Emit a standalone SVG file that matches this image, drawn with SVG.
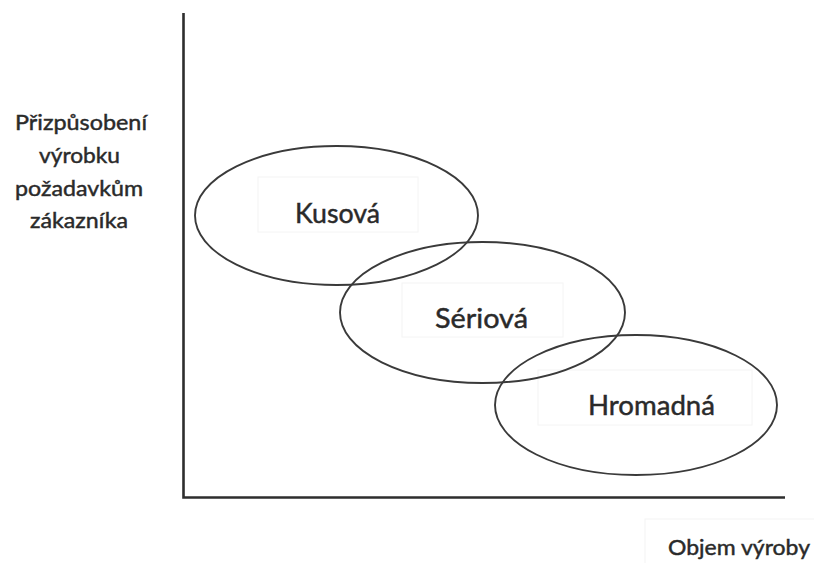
<svg xmlns="http://www.w3.org/2000/svg" width="814" height="563" viewBox="0 0 814 563">
  <style>
    .axis { stroke: #2e2e2e; stroke-width: 2.6; fill: none; }
    .oval { stroke: #3a3a3a; stroke-width: 1.9; fill: none; }
    .box { fill: #ffffff; stroke: #f4f4f4; stroke-width: 1; }
    .lbl { font-family: Lato, "Open Sans", "Liberation Sans", sans-serif; fill: #2a2a2a; stroke: #2a2a2a; stroke-width: 0.45; }
    .big { font-size: 27px; }
    .small { font-size: 22px; }
  </style>

  <rect width="814" height="563" fill="#ffffff"/>

  <!-- label backgrounds -->
  <g id="label-boxes">
    <rect class="box" x="258" y="177" width="160" height="55"/>
    <rect class="box" x="402" y="283" width="161" height="54"/>
    <rect class="box" x="538" y="370" width="214" height="55"/>
    <rect class="box" x="645" y="519" width="175" height="50"/>
  </g>

  <!-- axes -->
  <g id="connectors">
    <polyline class="axis" points="183.5,13 183.5,497.5 785,497.5"/>
  </g>

  <g id="kusova">
    <ellipse class="oval" cx="336.5" cy="215.5" rx="141.5" ry="69.5"/>
    <text class="lbl big" x="295" y="223" textLength="85" lengthAdjust="spacingAndGlyphs">Kusová</text>
  </g>

  <g id="seriova">
    <ellipse class="oval" cx="482.5" cy="312.5" rx="142.5" ry="70.5"/>
    <text class="lbl big" x="435" y="328" textLength="93" lengthAdjust="spacingAndGlyphs">Sériová</text>
  </g>

  <g id="hromadna">
    <ellipse class="oval" cx="636" cy="405" rx="141" ry="70"/>
    <text class="lbl big" x="588" y="415" textLength="127" lengthAdjust="spacingAndGlyphs">Hromadná</text>
  </g>

  <g id="y-label">
    <text class="lbl small" x="15" y="130" textLength="132" lengthAdjust="spacingAndGlyphs">Přizpůsobení</text>
    <text class="lbl small" x="39" y="163" textLength="81" lengthAdjust="spacingAndGlyphs">výrobku</text>
    <text class="lbl small" x="15" y="196" textLength="128" lengthAdjust="spacingAndGlyphs">požadavkům</text>
    <text class="lbl small" x="30" y="228" textLength="98" lengthAdjust="spacingAndGlyphs">zákazníka</text>
  </g>

  <g id="x-label">
    <text class="lbl small" x="668" y="555" textLength="142" lengthAdjust="spacingAndGlyphs">Objem výroby</text>
  </g>
</svg>
